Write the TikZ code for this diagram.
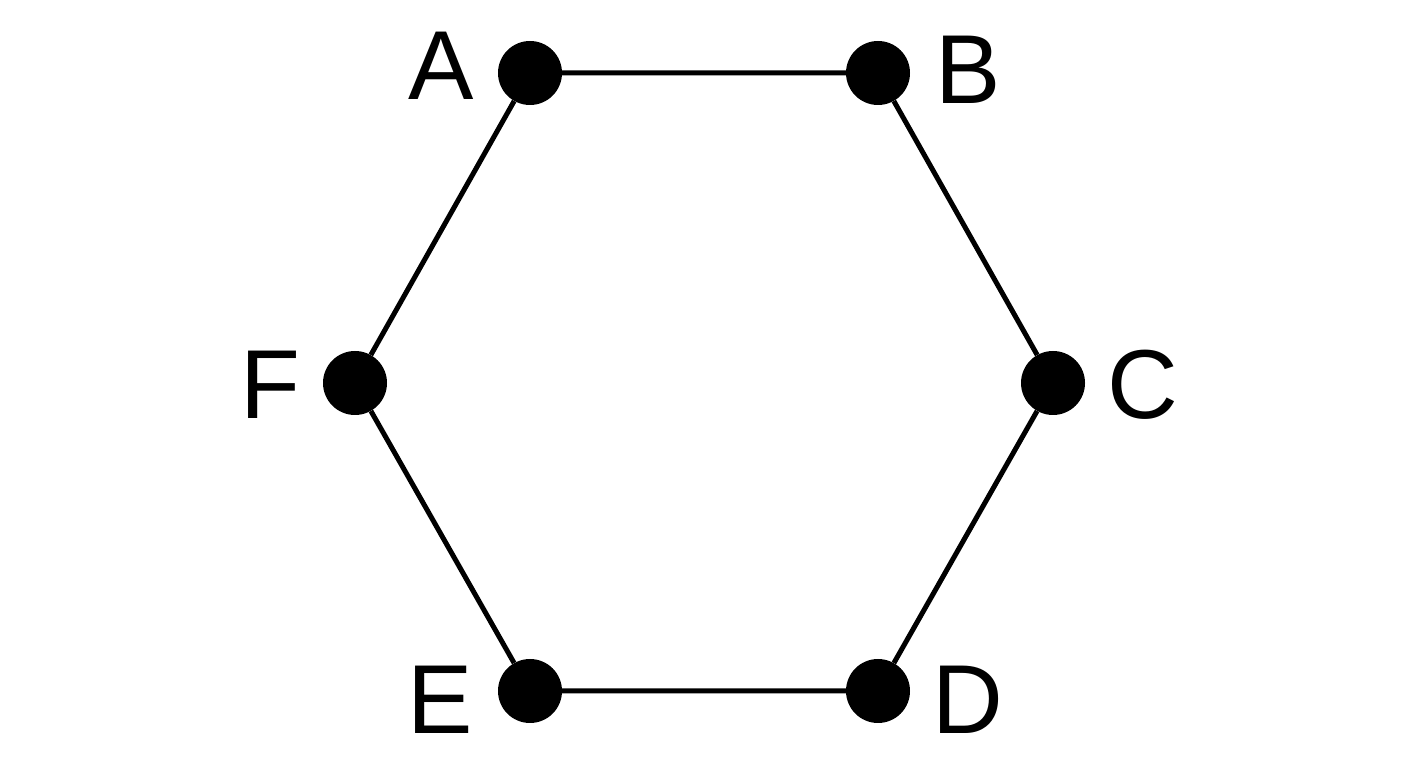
\documentclass[tikz,border=0pt]{standalone}
\usepackage{fontspec}
\setmainfont{Liberation Sans}
\begin{document}
\begin{tikzpicture}[x=1pt,y=1pt,
  vtx/.style={circle,fill=black,minimum size=64pt,inner sep=0pt},
  lbl/.style={inner sep=0pt,font=\fontsize{98}{98}\selectfont},
  edge/.style={line width=5pt}]
\useasboundingbox (0,0) rectangle (1408,768);
\node[vtx] (A) at (530,695) {};
\node[vtx] (B) at (878,695) {};
\node[vtx] (C) at (1053,385) {};
\node[vtx] (D) at (878,77) {};
\node[vtx] (E) at (530,77) {};
\node[vtx] (F) at (355,385) {};
\draw[edge] (A) -- (B) -- (C) -- (D) -- (E) -- (F) -- (A);
\node[lbl] (lA) at (441,702) {A};
\node[lbl] (lB) at (968,698) {B};
\node[lbl] (lC) at (1143,383) {C};
\node[lbl] (lD) at (968,68) {D};
\node[lbl] (lE) at (440,68) {E};
\node[lbl] (lF) at (270,383) {F};
\end{tikzpicture}
\end{document}
